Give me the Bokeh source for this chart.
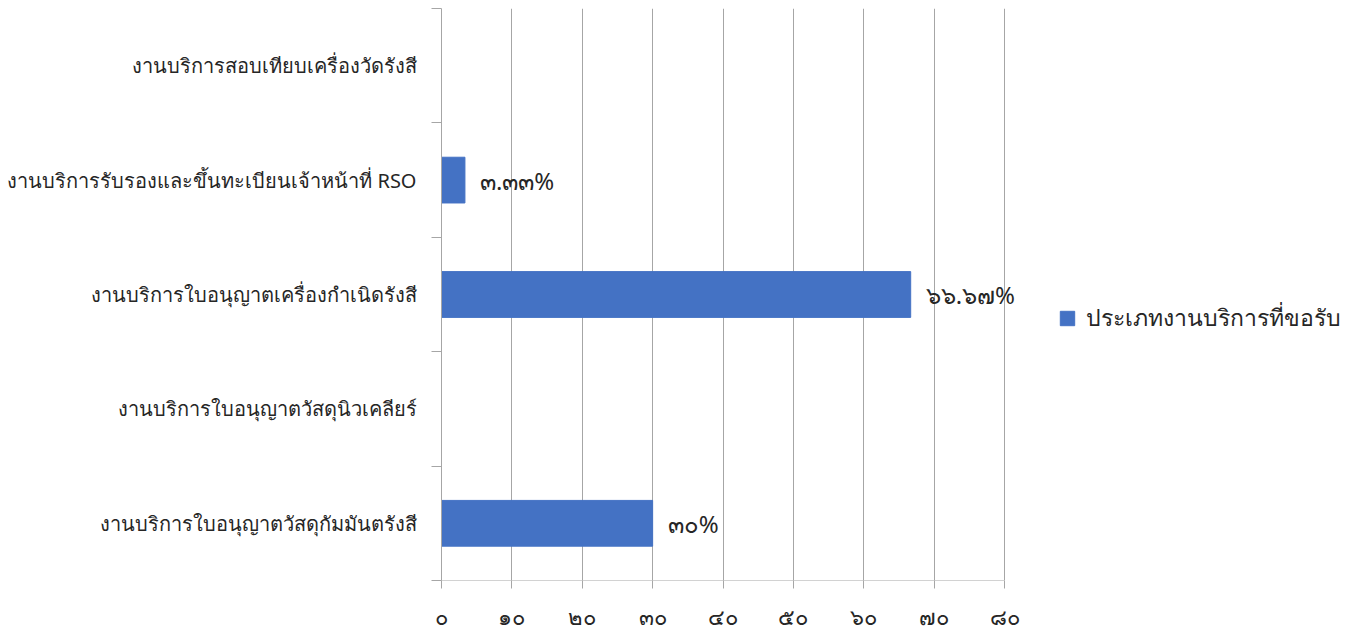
from bokeh.plotting import figure
from bokeh.models import FixedTicker, Legend, LegendItem, ColumnDataSource
from bokeh.embed import file_html
from bokeh.resources import INLINE
from bokeh.core.properties import value

categories = [
    "งานบริการใบอนุญาตวัสดุกัมมันตรังสี",
    "งานบริการใบอนุญาตวัสดุนิวเคลียร์",
    "งานบริการใบอนุญาตเครื่องกำเนิดรังสี",
    "งานบริการรับรองและขึ้นทะเบียนเจ้าหน้าที่ RSO",
    "งานบริการสอบเทียบเครื่องวัดรังสี",
]
values = [30, 0, 66.67, 3.33, 0]
data_labels = ["๓๐%", "", "๖๖.๖๗%", "๓.๓๓%", ""]
x_ticks = [0, 10, 20, 30, 40, 50, 60, 70, 80]
x_tick_labels = ["๐", "๑๐", "๒๐", "๓๐", "๔๐", "๕๐", "๖๐", "๗๐", "๘๐"]
series_name = "ประเภทงานบริการที่ขอรับ"

FONT = "Noto Sans"
TXT = "#262626"
GRID = "#A6A6A6"

AXIS_PX = 563          # pixel length of the 0..80 value axis
FRAME_W = 920          # frame extends right to host labels/legend
x_max = x_ticks[-1]
x_end = x_max * FRAME_W / AXIS_PX

ypos = list(range(1, len(categories) + 1))
src = ColumnDataSource(dict(y=ypos, v=values, lab=data_labels))

p = figure(frame_width=FRAME_W, frame_height=572, x_range=(0, x_end), y_range=(0.5, 5.5),
           output_backend="svg", toolbar_location=None,
           min_border_left=441, min_border_top=8, min_border_bottom=10, min_border_right=0)
p.outline_line_color = None

bars = p.hbar(y="y", right="v", left=0, height=0.4, source=src, color="#4472C4")
p.text(x="v", y="y", text="lab", source=src, x_offset=15, text_align="left",
       text_baseline="middle", text_font=value(FONT), text_font_size="24px", text_color=TXT)

# x axis line only over 0..80
p.segment(x0=[x_ticks[0]], x1=[x_max], y0=[0.5], y1=[0.5], line_color=GRID, line_width=1)

p.xaxis.ticker = FixedTicker(ticks=x_ticks)
p.xaxis.major_label_overrides = {t: l for t, l in zip(x_ticks, x_tick_labels)}
p.xaxis.major_tick_out = 8
p.xaxis.major_tick_in = 0
p.xaxis.minor_tick_line_color = None
p.xaxis.axis_line_color = None
p.xaxis.major_tick_line_color = GRID
p.xaxis.major_label_text_font = FONT
p.xaxis.major_label_text_font_size = "22px"
p.xaxis.major_label_text_color = TXT
p.xaxis.major_label_standoff = 12

# y axis
p.yaxis.ticker = FixedTicker(ticks=ypos, minor_ticks=[0.5 + i for i in range(len(categories) + 1)])
p.yaxis.major_label_overrides = {y: c for y, c in zip(ypos, categories)}
p.yaxis.major_tick_out = 0
p.yaxis.major_tick_in = 0
p.yaxis.minor_tick_out = 10
p.yaxis.minor_tick_in = 0
p.yaxis.minor_tick_line_color = GRID
p.yaxis.axis_line_color = GRID
p.yaxis.major_label_text_font = FONT
p.yaxis.major_label_text_font_size = "20px"
p.yaxis.major_label_text_color = TXT
p.yaxis.major_label_standoff = 15

p.xgrid.ticker = FixedTicker(ticks=x_ticks)
p.xgrid.grid_line_color = GRID
p.ygrid.grid_line_color = None

legend = Legend(items=[LegendItem(label=series_name, renderers=[bars])],
                location=(617, 244), border_line_color=None, background_fill_alpha=0,
                label_text_font=FONT, label_text_font_size="23px", label_text_color=TXT,
                glyph_width=18, glyph_height=18, margin=0, padding=4, label_standoff=10)
p.add_layout(legend, "center")

open("out.html", "w").write(file_html(p, INLINE))
